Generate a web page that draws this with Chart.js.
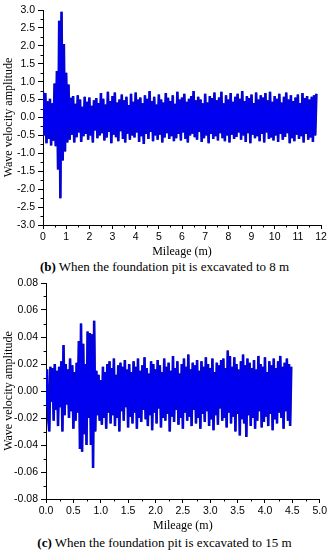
<!DOCTYPE html>
<html>
<head>
<meta charset="utf-8">
<script src="https://cdn.jsdelivr.net/npm/chart.js@4.4.1/dist/chart.umd.min.js"></script>
<style>
html,body{margin:0;padding:0;background:#fff;width:329px;height:550px;overflow:hidden;}
#c1{position:absolute;left:0;top:0;}
#c2{position:absolute;left:0;top:272px;}
.cap{position:absolute;left:0;width:329px;text-align:center;font-family:"Liberation Serif",serif;font-size:13px;color:#000;white-space:nowrap;}
</style>
</head>
<body>
<canvas id="c1" width="329" height="259"></canvas>
<div class="cap" style="top:259px"><b>(b)</b> When the foundation pit is excavated to 8 m</div>
<canvas id="c2" width="329" height="261"></canvas>
<div class="cap" style="top:535px"><b>(c)</b> When the foundation pit is excavated to 15 m</div>
<script>
// ---- data: chart (b), excavated to 8 m ----
const topSampleInterval = 0.05; // m between samples
const topAmplitude = [
 0.72,-0.5,0.68,-0.72,0.45,-0.6,0.52,-0.78,0.4,-0.65,
 0.95,-0.8,1.3,-1.45,2.7,-2.25,2.95,-1.2,2.05,-0.95,
 1.25,-0.7,0.92,-0.62,0.55,-0.48,0.6,-0.7,0.38,-0.55,
 0.62,-0.42,0.5,-0.68,0.3,-0.52,0.58,-0.46,0.44,-0.62,
 0.56,-0.5,0.33,-0.7,0.48,-0.36,0.54,-0.58,0.4,-0.5,
 0.68,-0.44,0.52,-0.64,0.36,-0.56,0.72,-0.4,0.46,-0.72,
 0.6,-0.48,0.7,-0.55,0.42,-0.66,0.5,-0.38,0.64,-0.6,
 0.48,-0.7,0.58,-0.45,0.35,-0.62,0.66,-0.5,0.44,-0.56,
 0.7,-0.42,0.5,-0.68,0.56,-0.52,0.4,-0.74,0.62,-0.46,
 0.52,-0.6,0.74,-0.4,0.46,-0.66,0.58,-0.5,0.36,-0.62,
 0.64,-0.48,0.5,-0.7,0.42,-0.56,0.68,-0.44,0.55,-0.6,
 0.46,-0.52,0.62,-0.66,0.38,-0.58,0.72,-0.46,0.5,-0.64,
 0.56,-0.42,0.66,-0.6,0.44,-0.7,0.52,-0.5,0.6,-0.45,
 0.74,-0.55,0.48,-0.62,0.58,-0.4,0.5,-0.68,0.4,-0.58,
 0.66,-0.5,0.42,-0.72,0.6,-0.46,0.54,-0.6,0.7,-0.52,
 0.48,-0.64,0.56,-0.44,0.72,-0.58,0.4,-0.66,0.62,-0.5,
 0.5,-0.7,0.68,-0.48,0.44,-0.6,0.58,-0.54,0.66,-0.42,
 0.52,-0.62,0.74,-0.5,0.46,-0.68,0.6,-0.44,0.54,-0.72,
 0.64,-0.48,0.4,-0.58,0.7,-0.52,0.5,-0.66,0.62,-0.46,
 0.56,-0.7,0.68,-0.42,0.48,-0.6,0.72,-0.56,0.44,-0.64,
 0.6,-0.5,0.52,-0.68,0.66,-0.46,0.42,-0.62,0.58,-0.54,
 0.7,-0.44,0.5,-0.72,0.62,-0.58,0.46,-0.66,0.56,-0.48,
 0.64,-0.6,0.4,-0.52,0.68,-0.7,0.54,-0.46,0.6,-0.62,
 0.5,-0.56,0.58,-0.68,0.62,-0.5,0.66
];
const topXTicks = [0,1,2,3,4,5,6,7,8,9,10,11,12];
const topXMinor = [0.5,1.5,2.5,3.5,4.5,5.5,6.5,7.5,8.5,9.5,10.5,11.5];
const topYTicks = [-3,-2.5,-2,-1.5,-1,-0.5,0,0.5,1,1.5,2,2.5,3];
const topYMinor = [-2.75,-2.25,-1.75,-1.25,-0.75,-0.25,0.25,0.75,1.25,1.75,2.25,2.75];

// ---- data: chart (c), excavated to 15 m ----
const bottomSampleInterval = 0.02;
const bottomAmplitude = [
 -0.012,0.016,-0.02,-0.03,0.018,-0.008,0.017,-0.022,0.02,-0.014,
 0.015,-0.026,0.018,-0.012,0.022,-0.03,0.034,-0.018,0.02,-0.01,
 0.016,-0.02,0.024,-0.015,0.019,-0.028,0.014,-0.022,0.021,-0.016,
 0.037,-0.043,0.05,-0.045,0.035,-0.032,0.02,-0.04,0.044,-0.02,
 0.043,-0.04,0.042,-0.057,0.052,-0.03,0.015,-0.018,0.012,-0.022,
 0.008,-0.025,0.018,-0.02,0.014,-0.028,0.02,-0.016,0.022,-0.024,
 0.017,-0.018,0.024,-0.026,0.012,-0.02,0.019,-0.03,0.021,-0.015,
 0.018,-0.022,0.023,-0.012,0.016,-0.027,0.02,-0.019,0.014,-0.024,
 0.022,-0.016,0.018,-0.028,0.024,-0.02,0.015,-0.023,0.019,-0.014,
 0.025,-0.021,0.017,-0.026,0.013,-0.018,0.022,-0.029,0.02,-0.016,
 0.016,-0.024,0.023,-0.013,0.019,-0.027,0.014,-0.02,0.024,-0.022,
 0.018,-0.017,0.021,-0.03,0.015,-0.019,0.026,-0.023,0.017,-0.014,
 0.022,-0.025,0.013,-0.02,0.02,-0.028,0.024,-0.016,0.018,-0.022,
 0.027,-0.019,0.016,-0.026,0.021,-0.014,0.019,-0.024,0.023,-0.02,
 0.015,-0.028,0.022,-0.017,0.018,-0.023,0.025,-0.015,0.02,-0.026,
 0.017,-0.021,0.024,-0.029,0.014,-0.018,0.021,-0.025,0.019,-0.013,
 0.023,-0.022,0.024,-0.02,0.017,-0.027,0.03,-0.016,0.026,-0.024,
 0.018,-0.019,0.025,-0.03,0.02,-0.017,0.016,-0.033,0.022,-0.021,
 0.027,-0.024,0.019,-0.034,0.024,-0.018,0.021,-0.026,0.017,-0.02,
 0.023,-0.028,0.016,-0.022,0.026,-0.015,0.02,-0.027,0.018,-0.023,
 0.025,-0.019,0.014,-0.026,0.022,-0.017,0.019,-0.029,0.024,-0.021,
 0.017,-0.024,0.022,-0.016,0.026,-0.02,0.018,-0.028,0.021,-0.015,
 0.024,-0.022,0.02,-0.026,0.018
];
const bottomXTicks = [0,0.5,1,1.5,2,2.5,3,3.5,4,4.5,5];
const bottomXMinor = [0.25,0.75,1.25,1.75,2.25,2.75,3.25,3.75,4.25,4.75];
const bottomYTicks = [-0.08,-0.06,-0.04,-0.02,0,0.02,0.04,0.06,0.08];
const bottomYMinor = [-0.07,-0.05,-0.03,-0.01,0.01,0.03,0.05,0.07];

const xTitle = 'Mileage (m)';
const yTitle = 'Wave velocity amplitude';

// ---- rendering ----
const minorTickPlugin = {
  id: 'minorTicks',
  afterDraw(chart, args, opts) {
    const ctx = chart.ctx;
    ctx.save();
    ctx.strokeStyle = '#000';
    ctx.lineWidth = 1;
    const xs = chart.scales.x, ys = chart.scales.y;
    (opts.x || []).forEach(v => {
      const px = Math.round(xs.getPixelForValue(v)) + 0.5;
      ctx.beginPath(); ctx.moveTo(px, xs.top); ctx.lineTo(px, xs.top + opts.len); ctx.stroke();
    });
    (opts.y || []).forEach(v => {
      const py = Math.round(ys.getPixelForValue(v)) + 0.5;
      ctx.beginPath(); ctx.moveTo(ys.right, py); ctx.lineTo(ys.right - opts.len, py); ctx.stroke();
    });
    ctx.restore();
  }
};

function makeChart(id, amps, interval, xt, xm, yt, ym, xmin, xmax, ymin, ymax, yAxisW, xAxisH, padTop, decX, decY) {
  const pts = amps.map((a, i) => ({x: i * interval, y: a}));
  const tickFont = {family: '"Liberation Sans", Arial, sans-serif', size: 10.5};
  const titleFont = {family: '"Liberation Serif", "Times New Roman", serif', size: 12, lineHeight: 1.2};
  return new Chart(document.getElementById(id), {
    type: 'line',
    data: {datasets: [
      {data: pts, borderColor: '#0000f0', borderWidth: 1.6, pointRadius: 0, tension: 0, fill: false, order: 1},
      {data: pts, borderColor: '#10109a', borderWidth: 2.6, pointRadius: 0, tension: 0, fill: false, order: 2}
    ]},
    plugins: [minorTickPlugin],
    options: {
      responsive: false, animation: false, events: [],
      layout: {padding: {left: 0, right: 8, top: padTop, bottom: 0}},
      plugins: {legend: {display: false}, tooltip: {enabled: false},
        minorTicks: {x: xm, y: ym, len: 2.5}},
      scales: {
        x: {
          type: 'linear', min: xmin, max: xmax,
          afterBuildTicks: s => { s.ticks = xt.map(v => ({value: v})); },
          afterFit: s => { s.height = xAxisH; },
          grid: {drawOnChartArea: false, drawTicks: true, tickLength: 4, color: '#000'},
          border: {display: true, color: '#000', width: 1},
          ticks: {color: '#000', font: tickFont, padding: 2, maxRotation: 0, autoSkip: false,
            callback: v => Number(v).toFixed(decX)},
          title: {display: true, text: xTitle, color: '#000', font: titleFont, padding: {top: 0, bottom: 0}}
        },
        y: {
          type: 'linear', min: ymin, max: ymax,
          afterBuildTicks: s => { s.ticks = yt.map(v => ({value: v})); },
          afterFit: s => { s.width = yAxisW; },
          grid: {drawOnChartArea: false, drawTicks: true, tickLength: 5, color: '#000'},
          border: {display: true, color: '#000', width: 1},
          ticks: {color: '#000', font: tickFont, padding: 3, autoSkip: false,
            callback: v => Number(v).toFixed(decY)},
          title: {display: true, text: yTitle, color: '#000', font: titleFont, padding: {top: 2, bottom: 0}}
        }
      }
    }
  });
}

makeChart('c1', topAmplitude, topSampleInterval, topXTicks, topXMinor, topYTicks, topYMinor,
  0, 12, -3, 3, 43, 34, 10, 0, 1);
makeChart('c2', bottomAmplitude, bottomSampleInterval, bottomXTicks, bottomXMinor, bottomYTicks, bottomYMinor,
  0, 5, -0.08, 0.08, 46, 34, 11, 1, 2);
</script>
</body>
</html>
